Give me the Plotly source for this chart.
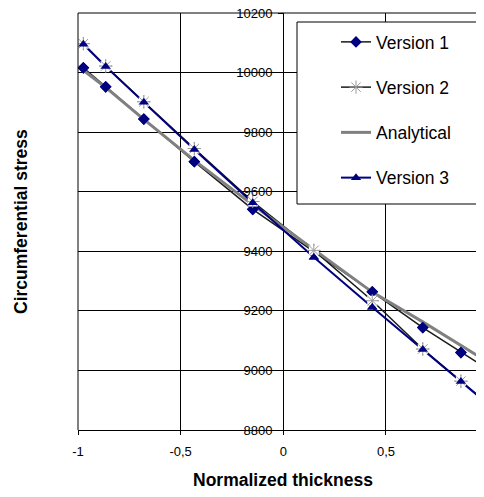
import plotly.graph_objects as go

# Normalized thickness positions (Gauss points)
x_pts = [-0.9739, -0.8651, -0.6794, -0.4334, -0.1489, 0.1489, 0.4334, 0.6794, 0.8651, 0.9739]

version1 = [10016, 9952, 9844, 9701, 9541, 9400, 9264, 9144, 9060, 9014]
version2 = [10097, 10022, 9902, 9745, 9567, 9403, 9234, 9072, 8964, 8902]
analytical = [10008, 9950, 9843, 9705, 9556, 9405, 9263, 9163, 9082, 9038]
version3 = [10095, 10020, 9900, 9742, 9563, 9380, 9212, 9070, 8963, 8900]

x_tickvals = [-1, -0.5, 0, 0.5, 1]
x_ticktext = ["-1", "-0,5", "0", "0,5", "1"]
y_tickvals = [8800, 9000, 9200, 9400, 9600, 9800, 10000, 10200]

NAVY = "#000080"
GRAY = "#808080"
STAR = "#9a9a9a"
FONT = "Liberation Sans, Arial, sans-serif"

m_v1 = dict(symbol="diamond", size=9, color=NAVY)
m_v2 = dict(symbol="asterisk-open", size=11, color=STAR, line=dict(color=STAR, width=1))
m_v3 = dict(symbol="triangle-up", size=9, color=NAVY)

fig = go.Figure()
# lines (with legend entries)
fig.add_trace(go.Scatter(x=x_pts, y=version1, name="Version 1", mode="lines+markers",
                         line=dict(color="#1a1a1a", width=1.5), marker=m_v1,
                         legendgroup="g1"))
fig.add_trace(go.Scatter(x=x_pts, y=version2, name="Version 2", mode="lines+markers",
                         line=dict(color="#1a1a1a", width=1.5), marker=m_v2,
                         legendgroup="g2"))
fig.add_trace(go.Scatter(x=x_pts, y=analytical, name="Analytical", mode="lines",
                         line=dict(color=GRAY, width=3),
                         legendgroup="g3"))
fig.add_trace(go.Scatter(x=x_pts, y=version3, name="Version 3", mode="lines+markers",
                         line=dict(color=NAVY, width=2), marker=m_v3,
                         legendgroup="g4"))
# markers drawn on top of all lines (asterisks have a white background)
fig.add_trace(go.Scatter(x=x_pts, y=version1, mode="markers", marker=m_v1,
                         showlegend=False, hoverinfo="skip", legendgroup="g1"))
fig.add_trace(go.Scatter(x=x_pts, y=version2, mode="markers",
                         marker=dict(symbol="square", size=10, color="white"),
                         showlegend=False, hoverinfo="skip", legendgroup="g2"))
fig.add_trace(go.Scatter(x=x_pts, y=version2, mode="markers", marker=m_v2,
                         showlegend=False, hoverinfo="skip", legendgroup="g2"))
fig.add_trace(go.Scatter(x=x_pts, y=version3, mode="markers", marker=m_v3,
                         showlegend=False, hoverinfo="skip", legendgroup="g4"))

# page body has an 8px margin; keep the page inside the 484x497 window
OFF = 8
W, H = 484 - 2 * OFF, 497 - 2 * OFF
L = 78 - OFF
T = 13 - OFF
B = H - (430 - OFF)
R = 0
pw = W - L - R
ph = H - T - B
PX_PER_UNIT = 205.3
x_max = -1 + pw / PX_PER_UNIT

def px_x(px):
    return (px - OFF - L) / pw

def px_y(py):
    return (H - B - (py - OFF)) / ph

fig.update_layout(
    width=W, height=H,
    margin=dict(l=L, r=R, t=T, b=B, autoexpand=False),
    paper_bgcolor="white", plot_bgcolor="white",
    font=dict(family=FONT, color="black", size=13),
    xaxis=dict(range=[-1, x_max], tickvals=x_tickvals, ticktext=x_ticktext,
               showgrid=True, gridcolor="black", gridwidth=1,
               zeroline=False, showline=True, linecolor="black", linewidth=1,
               ticks="outside", ticklen=4, tickcolor="black", ticklabelstandoff=5,
               tickfont=dict(size=13), domain=[0, 1], automargin=False),
    yaxis=dict(range=[8800, 10200], tickvals=y_tickvals, tickformat="d",
               showgrid=True, gridcolor="black", gridwidth=1,
               zeroline=False, showline=False,
               ticks="outside", ticklen=5, tickcolor="black", ticklabelstandoff=3,
               anchor="free", position=px_x(283), automargin=False,
               ticklabeloverflow="allow",
               tickfont=dict(size=13)),
    legend=dict(x=px_x(336), y=px_y(24), xanchor="left", yanchor="top",
                bgcolor="rgba(0,0,0,0)", borderwidth=0,
                font=dict(size=17.5, family=FONT),
                tracegroupgap=19.5, itemwidth=30),
    showlegend=True,
)

# plot border lines (left and top)
fig.add_shape(type="line", xref="paper", yref="paper", x0=0, x1=0, y0=0, y1=1,
              line=dict(color="black", width=1))
fig.add_shape(type="line", xref="paper", yref="paper", x0=0, x1=1, y0=1, y1=1,
              line=dict(color="black", width=1))
# legend box
fig.add_shape(type="rect", xref="paper", yref="paper",
              x0=px_x(297), x1=1.05, y0=px_y(204), y1=px_y(22),
              fillcolor="white", line=dict(color="black", width=1), layer="above")

fig.add_annotation(text="<b>Normalized thickness</b>", xref="paper", yref="paper",
                   x=px_x(283), y=px_y(480), xanchor="center", yanchor="middle",
                   showarrow=False, font=dict(size=17.5, family=FONT))
fig.add_annotation(text="<b>Circumferential stress</b>", xref="paper", yref="paper",
                   x=px_x(21), y=px_y(222), xanchor="center", yanchor="middle",
                   showarrow=False, textangle=-90, font=dict(size=17.5, family=FONT))

fig.write_html("out.html")
